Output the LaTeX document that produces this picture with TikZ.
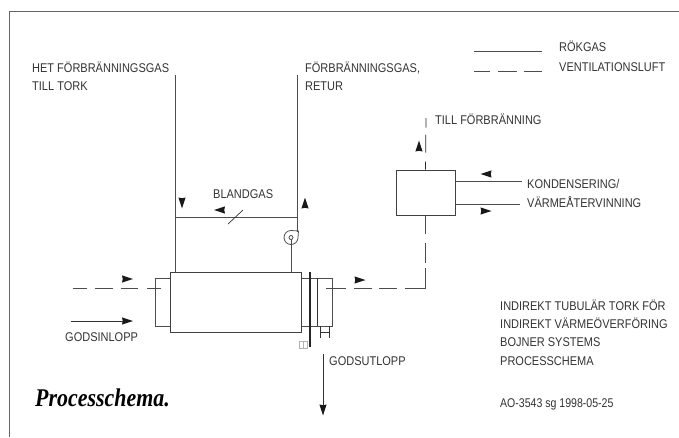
\documentclass[tikz,border=0pt]{standalone}
\usepackage{fontspec}
\setmainfont{Liberation Sans}
\newfontfamily\titlefont{Liberation Serif}
\usetikzlibrary{calc}

\tikzset{
    pipe/.style={line width=.8pt,draw=black!70},
    thin pipe/.style={line width=.7pt,draw=black!80},
    unit/.style={draw=black!75,line width=.8pt,inner sep=0pt,fill=white},
    txt/.style={anchor=base west,inner sep=0pt,yscale=1.15,text=black!80,font=\fontsize{11}{13}\selectfont},
}

\begin{document}
\begin{tikzpicture}[x=1pt,y=-1pt]
    \useasboundingbox (0,0) rectangle (679,437);
    \draw[line width=.9pt,draw=black!60] (679,11) -- (9,11) -- (9,437);

    % legend
    \coordinate (rok a) at (474,51);
    \coordinate (rok b) at (542,51);
    \coordinate (vent a) at (474,71);
    \coordinate (vent b) at (542,71);
    \draw[pipe] (rok a) -- (rok b);
    \draw[pipe,dash pattern=on 16pt off 8pt on 19pt off 7pt on 18pt off 9pt] (vent a) -- (vent b);
    \node[txt] (rokgas) at (559,51.5) {RÖKGAS};
    \node[txt] (ventluft) at (559,71.5) {VENTILATIONSLUFT};

    % stubs behind the dryer
    \draw[pipe] (170,278) -- (155,278) -- (155,326) -- (170,326);
    \draw[pipe] (301,278) -- (332,278) -- (332,326) -- (301,326);
    \draw[thin pipe] (317,278) -- (317,326);
    \node[unit,minimum width=131pt,minimum height=60pt] (dryer) at (235.5,302) {};

    % flange and feet
    \coordinate (flange a) at (310,272);
    \coordinate (flange b) at (310,347);
    \draw[line width=1.3pt,black!85] (flange a) -- (flange b);
    \draw[thin pipe] (320,326) -- (320,338) (329,326) -- (329,338) (320,332) -- (329,332);
    \draw[line width=.6pt,black!30] (299,341) rectangle (307,348) (303,341) -- (303,348);

    % gas loop
    \coordinate (hot top) at (175,75);
    \coordinate (hot foot) at (175,272);
    \coordinate (ret top) at (297,75);
    \coordinate (ret foot) at (297,232);
    \coordinate (mix a) at (175,217);
    \coordinate (mix b) at (297,217);
    \draw[pipe] (hot top) -- (hot foot);
    \draw[pipe] (ret top) -- (ret foot);
    \draw[pipe] (mix a) -- (mix b);
    \draw[thin pipe] (228,224) -- (243,210);

    % fan
    \coordinate (fan) at (291,237.5);
    \coordinate (fan foot) at (291,272);
    \draw[pipe] (298.5,231) -- (291,230.5)
        arc[start angle=90,end angle=350,radius=7pt]
        -- cycle;
    \draw[thin pipe] (fan) circle[radius=2pt];
    \draw[pipe] ($(fan)+(0,2)$) -- (fan foot);

    % ventilation air
    \coordinate (inlet a) at (73,288);
    \coordinate (inlet b) at (161,288);
    \coordinate (outlet) at (326,288.5);
    \node[unit,minimum width=59pt,minimum height=45pt] (cond) at (425.5,192.5) {};
    \coordinate (till top) at (426,118);
    \draw[pipe,dash pattern=on 14pt off 8pt on 18pt off 8pt on 17pt off 9pt on 14pt off 5pt] (inlet a) -- (inlet b);
    \draw[pipe,dash pattern=on 20pt off 8pt on 18pt off 7pt on 18pt off 8pt on 41pt off 5pt on 20pt off 9pt on 19pt off 5pt]
        (outlet) -| (cond.south);
    \draw[pipe,black!85,dash pattern=on 8pt off 9pt on 18pt off 7pt on 10pt off 5pt] (cond.north) -- (till top);

    % condenser lines
    \coordinate (kond end) at (522,181);
    \coordinate (varm end) at (520,204);
    \draw[pipe] (cond.east |- kond end) -- (kond end);
    \draw[pipe] (cond.east |- varm end) -- (varm end);

    % goods in and out
    \coordinate (gin a) at (71,321);
    \coordinate (gin b) at (124,321);
    \coordinate (gut a) at (323,354);
    \coordinate (gut b) at (323,407);
    \draw[thin pipe] (gin a) -- (gin b);
    \draw[thin pipe] (gut a) -- (gut b);

    % loose arrow heads
    \foreach \x/\y/\ang in {
        127.5/279/0, 127.5/321/0, 219.5/210/180, 182/203/-90, 305/203/90,
        360/280/0, 419/146/90, 486/174/180, 486/211/0, 323/410/-90}{%
        \fill[black!90,shift={(\x,\y)},rotate=\ang]
            (-5.5,-3.6) -- (5.5,0) -- (-5.5,3.6) -- (-4.8,0) -- cycle;
    }

    % texts
    \node[txt] (het a) at (32,72.5) {HET FÖRBRÄNNINGSGAS};
    \node[txt] (het b) at (32,90.5) {TILL TORK};
    \node[txt] (ret a) at (305,72.5) {FÖRBRÄNNINGSGAS,};
    \node[txt] (ret b) at (305,90.5) {RETUR};
    \node[txt] (blandgas) at (213,198.5) {BLANDGAS};
    \node[txt] (till) at (435,124.5) {TILL FÖRBRÄNNING};
    \node[txt] (kond) at (527,188.5) {KONDENSERING/};
    \node[txt] (varm) at (527,207.5) {VÄRMEÅTERVINNING};
    \node[txt] (godsin) at (65,341.5) {GODSINLOPP};
    \node[txt] (godsut) at (329,365.5) {GODSUTLOPP};
    \node[txt] (info a) at (500,310.5) {INDIREKT TUBULÄR TORK FÖR};
    \node[txt] (info b) at (500,328.5) {INDIREKT VÄRMEÖVERFÖRING};
    \node[txt] (info c) at (500,346.5) {BOJNER SYSTEMS};
    \node[txt] (info d) at (500,365.5) {PROCESSCHEMA};
    \node[txt,xscale=.96] (info e) at (500,407.5) {AO-3543 sg 1998-05-25};
    \node[anchor=base west,inner sep=0pt,xscale=.86,font=\titlefont\bfseries\itshape\fontsize{25.5}{27}\selectfont] (title) at (35,406) {Processchema.};
\end{tikzpicture}
\end{document}
